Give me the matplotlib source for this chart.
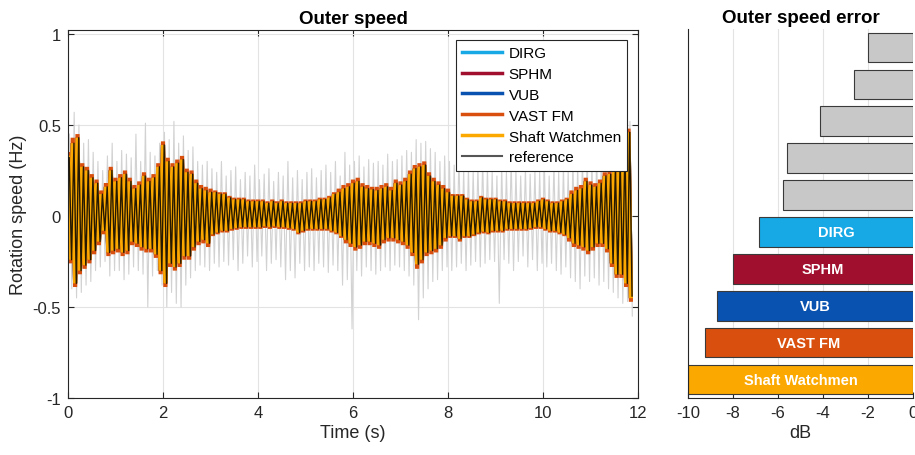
import numpy as np
import matplotlib
matplotlib.use("Agg")
import matplotlib.pyplot as plt

plt.rcParams['font.family'] = ['Liberation Sans', 'DejaVu Sans']
plt.rcParams['axes.unicode_minus'] = False

# ---------------- data ----------------
# envelope peaks of the estimated speed (upper at t = 0.0, 0.1, ...; lower at t = 0.05, 0.15, ...)
est_up = [0.32, 0.40, 0.43, 0.27, 0.25, 0.21, 0.18, 0.12, 0.16, 0.25,
          0.19, 0.21, 0.23, 0.19, 0.15, 0.17, 0.22, 0.19, 0.21, 0.27,
          0.39, 0.30, 0.27, 0.29, 0.31, 0.24, 0.23, 0.18, 0.15, 0.14,
          0.13, 0.13, 0.12, 0.12, 0.10, 0.09, 0.09, 0.09, 0.08, 0.08,
          0.08, 0.08, 0.07, 0.08, 0.07, 0.08, 0.07, 0.07, 0.07, 0.07,
          0.08, 0.08, 0.08, 0.09, 0.09, 0.10, 0.12, 0.13, 0.15, 0.16,
          0.18, 0.19, 0.16, 0.15, 0.145, 0.14, 0.15, 0.16, 0.14, 0.18,
          0.17, 0.19, 0.23, 0.26, 0.27, 0.28, 0.22, 0.19, 0.17, 0.15,
          0.13, 0.11, 0.11, 0.11, 0.09, 0.08, 0.08, 0.10, 0.09, 0.09,
          0.09, 0.08, 0.08, 0.07, 0.07, 0.07, 0.07, 0.07, 0.07, 0.08,
          0.09, 0.08, 0.07, 0.07, 0.08, 0.09, 0.12, 0.14, 0.15, 0.19,
          0.17, 0.16, 0.18, 0.22, 0.23, 0.26, 0.30, 0.36, 0.46]
est_dn = [-0.24, -0.37, -0.30, -0.27, -0.24, -0.19, -0.14, -0.08, -0.20, -0.19,
          -0.18, -0.20, -0.19, -0.14, -0.15, -0.17, -0.18, -0.18, -0.21, -0.30,
          -0.37, -0.26, -0.28, -0.26, -0.22, -0.22, -0.17, -0.14, -0.13, -0.15,
          -0.10, -0.09, -0.08, -0.08, -0.07, -0.065, -0.06, -0.06, -0.06, -0.06,
          -0.06, -0.055, -0.06, -0.055, -0.06, -0.06, -0.065, -0.07, -0.09, -0.08,
          -0.07, -0.07, -0.07, -0.07, -0.07, -0.08, -0.09, -0.11, -0.13, -0.15,
          -0.17, -0.16, -0.14, -0.14, -0.15, -0.16, -0.13, -0.12, -0.12, -0.13,
          -0.14, -0.16, -0.20, -0.265, -0.24, -0.20, -0.19, -0.18, -0.16, -0.12,
          -0.11, -0.11, -0.125, -0.11, -0.11, -0.10, -0.09, -0.085, -0.09, -0.08,
          -0.08, -0.08, -0.07, -0.07, -0.07, -0.07, -0.07, -0.065, -0.06, -0.06,
          -0.07, -0.08, -0.08, -0.09, -0.10, -0.12, -0.15, -0.16, -0.17, -0.19,
          -0.17, -0.15, -0.15, -0.18, -0.26, -0.32, -0.32, -0.37, -0.44]
vast_up = [0.34, 0.43, 0.45, 0.29, 0.27, 0.23, 0.20, 0.14, 0.18, 0.27,
           0.21, 0.23, 0.25, 0.21, 0.17, 0.19, 0.24, 0.21, 0.23, 0.29,
           0.41, 0.32, 0.29, 0.31, 0.33, 0.26, 0.25, 0.20, 0.17, 0.16,
           0.15, 0.14, 0.13, 0.13, 0.11, 0.10, 0.10, 0.10, 0.09, 0.09,
           0.09, 0.09, 0.08, 0.09, 0.08, 0.09, 0.08, 0.08, 0.08, 0.08,
           0.09, 0.09, 0.09, 0.10, 0.10, 0.11, 0.13, 0.15, 0.17, 0.18,
           0.20, 0.21, 0.18, 0.17, 0.16, 0.16, 0.17, 0.18, 0.16, 0.20,
           0.19, 0.21, 0.25, 0.28, 0.29, 0.30, 0.24, 0.21, 0.19, 0.17,
           0.15, 0.12, 0.12, 0.12, 0.10, 0.09, 0.09, 0.11, 0.10, 0.10,
           0.10, 0.09, 0.09, 0.08, 0.08, 0.08, 0.08, 0.08, 0.08, 0.09,
           0.10, 0.09, 0.08, 0.08, 0.09, 0.10, 0.14, 0.16, 0.17, 0.21,
           0.19, 0.18, 0.20, 0.24, 0.25, 0.28, 0.32, 0.38, 0.48]
vast_dn = [-0.26, -0.39, -0.32, -0.29, -0.26, -0.21, -0.16, -0.10, -0.22, -0.21,
           -0.20, -0.22, -0.21, -0.16, -0.17, -0.19, -0.20, -0.20, -0.23, -0.32,
           -0.39, -0.28, -0.30, -0.28, -0.24, -0.24, -0.19, -0.16, -0.15, -0.17,
           -0.11, -0.10, -0.09, -0.09, -0.08, -0.075, -0.07, -0.07, -0.07, -0.07,
           -0.07, -0.065, -0.07, -0.065, -0.07, -0.07, -0.075, -0.08, -0.10, -0.09,
           -0.08, -0.08, -0.08, -0.08, -0.08, -0.09, -0.10, -0.12, -0.15, -0.17,
           -0.19, -0.18, -0.16, -0.16, -0.17, -0.18, -0.15, -0.14, -0.14, -0.15,
           -0.16, -0.18, -0.22, -0.29, -0.26, -0.22, -0.21, -0.20, -0.18, -0.14,
           -0.12, -0.12, -0.14, -0.12, -0.12, -0.11, -0.10, -0.095, -0.10, -0.09,
           -0.09, -0.09, -0.08, -0.08, -0.08, -0.08, -0.08, -0.075, -0.07, -0.07,
           -0.08, -0.09, -0.09, -0.10, -0.11, -0.14, -0.17, -0.18, -0.19, -0.21,
           -0.19, -0.17, -0.17, -0.20, -0.28, -0.34, -0.34, -0.39, -0.46]
# reference signal spike extremes
ref_up = [0.45, 0.57, 0.50, 0.40, 0.42, 0.35, 0.30, 0.25, 0.33, 0.40,
          0.30, 0.36, 0.34, 0.32, 0.45, 0.30, 0.51, 0.35, 0.33, 0.40,
          0.46, 0.42, 0.52, 0.40, 0.44, 0.36, 0.38, 0.30, 0.28, 0.30,
          0.26, 0.24, 0.30, 0.22, 0.25, 0.27, 0.20, 0.24, 0.22, 0.28,
          0.20, 0.23, 0.26, 0.19, 0.24, 0.22, 0.30, 0.21, 0.25, 0.20,
          0.24, 0.26, 0.21, 0.25, 0.28, 0.24, 0.30, 0.22, 0.35, 0.28,
          0.30, 0.33, 0.27, 0.31, 0.29, 0.30, 0.28, 0.34, 0.30, 0.31,
          0.33, 0.36, 0.35, 0.42, 0.40, 0.41, 0.37, 0.35, 0.30, 0.33,
          0.30, 0.28, 0.32, 0.25, 0.26, 0.24, 0.27, 0.30, 0.26, 0.24,
          0.22, 0.27, 0.24, 0.30, 0.25, 0.22, 0.26, 0.23, 0.25, 0.24,
          0.26, 0.22, 0.28, 0.24, 0.27, 0.25, 0.30, 0.28, 0.32, 0.34,
          0.30, 0.33, 0.36, 0.38, 0.40, 0.42, 0.45, 0.50, 0.52]
ref_dn = [-0.40, -0.45, -0.42, -0.38, -0.36, -0.30, -0.28, -0.25, -0.33, -0.30,
          -0.30, -0.35, -0.32, -0.28, -0.30, -0.32, -0.50, -0.33, -0.30, -0.38,
          -0.50, -0.42, -0.48, -0.50, -0.38, -0.34, -0.30, -0.27, -0.28, -0.30,
          -0.26, -0.28, -0.25, -0.27, -0.24, -0.30, -0.26, -0.22, -0.28, -0.25,
          -0.22, -0.30, -0.26, -0.24, -0.28, -0.35, -0.30, -0.34, -0.26, -0.30,
          -0.28, -0.30, -0.26, -0.28, -0.31, -0.27, -0.30, -0.38, -0.35, -0.62,
          -0.30, -0.33, -0.28, -0.30, -0.32, -0.30, -0.28, -0.30, -0.27, -0.28,
          -0.30, -0.33, -0.38, -0.57, -0.45, -0.40, -0.36, -0.35, -0.30, -0.28,
          -0.30, -0.28, -0.26, -0.30, -0.27, -0.25, -0.28, -0.26, -0.24, -0.25,
          -0.48, -0.24, -0.26, -0.30, -0.25, -0.22, -0.28, -0.24, -0.30, -0.26,
          -0.28, -0.26, -0.30, -0.32, -0.28, -0.34, -0.36, -0.40, -0.33, -0.36,
          -0.34, -0.38, -0.36, -0.40, -0.42, -0.45, -0.48, -0.47, -0.55]

methods = ['DIRG', 'SPHM', 'VUB', 'VAST FM', 'Shaft Watchmen']
method_colors = ['#16A9E6', '#A0102E', '#0A52B0', '#D9500E', '#FBA800']

# error bars (top to bottom)
err_labels = ['', '', '', '', '', 'DIRG', 'SPHM', 'VUB', 'VAST FM', 'Shaft Watchmen']
err_values = [-1.99, -2.62, -4.14, -5.60, -5.77, -6.85, -8.00, -8.72, -9.26, -10.0]
err_colors = ['#C8C8C8'] * 5 + method_colors

# ---------------- helpers ----------------
def zigzag(up, dn, offset=0.0):
    up = np.asarray(up, float)
    dn = np.asarray(dn, float)
    n = len(up)
    t = np.empty(2 * n)
    y = np.empty(2 * n)
    t[0::2] = np.arange(n) * 0.1 + offset
    t[1::2] = np.arange(n) * 0.1 + 0.05 + offset
    y[0::2] = up
    y[1::2] = dn
    return t, y

TXT = '#262626'
fig = plt.figure(figsize=(9.15, 4.56), dpi=100)

# ---------------- left panel ----------------
ax = fig.add_axes([68 / 915, 1 - 399 / 456, 570 / 915, 368 / 456])
t_ref, y_ref = zigzag(ref_up, ref_dn, 0.03)
ax.plot(t_ref, y_ref, color='#d2d2d2', lw=0.8, zorder=1)

series = {
    'DIRG': (est_up, est_dn),
    'SPHM': (est_up, est_dn),
    'VUB': (est_up, est_dn),
    'VAST FM': (vast_up, vast_dn),
    'Shaft Watchmen': (est_up, est_dn),
}
for name, col in zip(methods, method_colors):
    u, d = series[name]
    tt, yy = zigzag(u, d)
    ax.plot(tt, yy, color=col, lw=3.0, label=name, zorder=2,
            solid_joinstyle='bevel')

t_core, y_core = zigzag(est_up, est_dn, 0.025)
ax.plot(t_core, y_core, color='black', lw=1.0, alpha=0.85, label='reference', zorder=3)

ax.set_xlim(0, 12)
ax.set_ylim(-1, 1.022)
ax.set_xticks([0, 2, 4, 6, 8, 10, 12])
ax.set_yticks([-1, -0.5, 0, 0.5, 1])
ax.set_yticklabels(['-1', '-0.5', '0', '0.5', '1'])
ax.grid(True, color='#e3e3e3', lw=0.8)
ax.set_axisbelow(True)
ax.tick_params(direction='in', length=4, labelsize=12, colors=TXT, top=True, right=True, pad=5)
for s in ax.spines.values():
    s.set_color(TXT)
    s.set_linewidth(0.8)
ax.set_xlabel('Time (s)', fontsize=13, color=TXT, labelpad=3)
ax.set_ylabel('Rotation speed (Hz)', fontsize=13, color=TXT, labelpad=4)
ax.set_title('Outer speed', fontsize=13.5, fontweight='bold', pad=5)
leg = ax.legend(loc='upper right', bbox_to_anchor=(0.981, 0.973), borderaxespad=0,
                fontsize=11, handlelength=2.6, handletextpad=0.45, labelspacing=0.45,
                borderpad=0.4, fancybox=False, framealpha=1)
leg.get_frame().set_edgecolor(TXT)
leg.get_frame().set_linewidth(0.8)
for h in leg.get_lines():
    h.set_linewidth(2.5)
leg.get_lines()[-1].set_linewidth(1.5)
leg.get_lines()[-1].set_color('#555555')
leg.get_lines()[-1].set_alpha(1)

# ---------------- right panel ----------------
bx = fig.add_axes([688 / 915, 1 - 399 / 456, 225 / 915, 369 / 456])
ypos = np.arange(len(err_values))[::-1] + 1
bx.barh(ypos, err_values, height=0.8, color=err_colors, edgecolor='#3a3a3a', linewidth=0.8, zorder=2)
for yp, v, lab in zip(ypos, err_values, err_labels):
    if lab:
        bx.text(v / 2, yp, lab, ha='center', va='center', color='white',
                fontsize=10.5, fontweight='bold', zorder=3)
bx.set_xlim(-10, 0)
bx.set_ylim(0.5, 10.5)
bx.set_xticks([-10, -8, -6, -4, -2, 0])
bx.set_yticks([])
bx.grid(True, axis='x', color='#e3e3e3', lw=0.8)
bx.set_axisbelow(True)
bx.tick_params(direction='in', length=4, labelsize=12, colors=TXT, pad=5)
bx.spines['top'].set_visible(False)
bx.spines['right'].set_visible(False)
for s in ['left', 'bottom']:
    bx.spines[s].set_color(TXT)
    bx.spines[s].set_linewidth(0.8)
bx.set_xlabel('dB', fontsize=13, color=TXT, labelpad=3)
bx.set_title('Outer speed error', fontsize=13.5, fontweight='bold', pad=5)

fig.savefig('out.png', dpi=100)
